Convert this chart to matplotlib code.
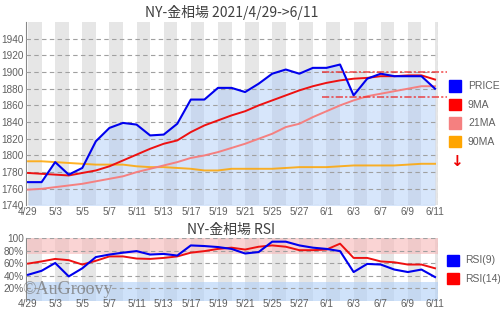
import matplotlib
matplotlib.use('Agg')
import matplotlib.pyplot as plt

dates = ['4/29', '4/30', '5/3', '5/4', '5/5', '5/6', '5/7', '5/10', '5/11', '5/12',
         '5/13', '5/14', '5/17', '5/18', '5/19', '5/20', '5/21', '5/24', '5/25', '5/26',
         '5/27', '5/28', '6/1', '6/2', '6/3', '6/4', '6/7', '6/8', '6/9', '6/10', '6/11']
price = [1768, 1768, 1792, 1777, 1785, 1817, 1833, 1839, 1837, 1824, 1825, 1838, 1867, 1867,
         1881, 1881, 1876, 1886, 1898, 1903, 1898, 1905, 1905, 1909, 1872, 1892, 1898, 1895,
         1895, 1895, 1880]
ma9 = [1779, 1778, 1777, 1776, 1779, 1782, 1787, 1794, 1801, 1808, 1814, 1818, 1828, 1836,
       1842, 1848, 1853, 1860, 1866, 1872, 1878, 1883, 1887, 1890, 1892, 1893, 1895, 1895,
       1896, 1896, 1891]
ma21 = [1759, 1760, 1762, 1764, 1766, 1769, 1772, 1775, 1780, 1784, 1788, 1792, 1797, 1800,
        1804, 1809, 1814, 1820, 1826, 1834, 1838, 1846, 1853, 1860, 1866, 1871, 1874, 1877,
        1880, 1883, 1883]
ma90 = [1793, 1793, 1792, 1791, 1790, 1789, 1789, 1789, 1787, 1786, 1786, 1785, 1784, 1782,
        1782, 1784, 1784, 1784, 1784, 1785, 1786, 1786, 1786, 1787, 1788, 1788, 1788, 1788,
        1789, 1790, 1790]
rsi9 = [41.6, 48, 60.5, 39, 52, 70, 74, 77, 79.5, 74, 75, 72.4, 88.6, 87.6, 86, 83, 75.7, 78,
        94.6, 94.6, 88.6, 85, 83, 79.5, 46, 59, 58, 50, 46, 50, 38]
rsi14 = [59.5, 63, 67, 65, 58, 64, 71, 71, 67.6, 67, 68.6, 71, 77, 79.5, 83, 85, 82, 86.5,
         88.6, 86.5, 81, 81, 82, 91.4, 68.6, 68.6, 63, 61.6, 58, 58, 52]
levels = [1900, 1870]
price_ticks = [1740, 1760, 1780, 1800, 1820, 1840, 1860, 1880, 1900, 1920, 1940]
rsi_ticks = [20, 40, 60, 80, 100]
rsi_tick_labels = ['20%', '40%', '60%', '80%', '100']
legend_main = [('PRICE', '#0000ff'), ('9MA', '#ff0000'), ('21MA', '#f58080'), ('90MA', '#ffa500')]
legend_rsi = [('RSI(9)', '#0000ff'), ('RSI(14)', '#ff0000')]

plt.rcParams['font.family'] = ['Liberation Sans', 'DejaVu Sans']
CJK = ['Noto Sans CJK JP', 'DejaVu Sans']
TXT = '#606060'
x = list(range(len(dates)))
tick_pos = x[::2]
tick_labels = dates[::2]
XL = (-0.15, 30.22)

fig = plt.figure(figsize=(5, 3.1), dpi=100)


def base(ax, ylim, yticks, ylabels, xpad):
    ax.set_xlim(*XL)
    ax.set_ylim(*ylim)
    for k in range(0, len(dates), 2):
        ax.axvspan(k, k + 1, color='#e6e6e6', lw=0, zorder=0)
    for t in yticks:
        ax.axhline(t, color='#a0a0a0', lw=0.8, ls=(0, (4, 3)), zorder=3)
    ax.axvline(XL[1], color='#a0a0a0', lw=0.8, ls=(0, (4, 3)), zorder=3)
    for s in ['top', 'right', 'bottom']:
        ax.spines[s].set_visible(False)
    ax.spines['left'].set_color('#888888')
    ax.set_yticks(yticks)
    ax.set_yticklabels(ylabels)
    ax.set_xticks(tick_pos)
    ax.set_xticklabels(tick_labels)
    ax.tick_params(length=0, labelsize=7.2, colors=TXT, pad=1.5)
    ax.tick_params(axis='x', pad=xpad)


ax = fig.add_axes([0.052, 0.3371, 0.824, 0.592])
base(ax, (1740, 1960), price_ticks, [str(t) for t in price_ticks], 1.0)
ax.fill_between(x, price, 1740, color='#a8c8f8', alpha=0.45, lw=0, zorder=1)
ax.plot(x, ma90, color='#ffa500', lw=1.4, alpha=0.85, zorder=4)
ax.plot(x, ma21, color='#f58080', lw=1.4, zorder=4)
ax.plot(x, ma9, color='#ee1111', lw=1.4, zorder=4)
ax.plot(x, price, color='#0000ee', lw=1.5, zorder=5)
for lv in levels:
    ax.plot([21.65, 30.9], [lv, lv], color='#ee2222', lw=1.3, alpha=0.7,
            ls=(0, (4, 1.2, 1.2, 1.2)), clip_on=False, zorder=6)
fig.text(0.464, 1 - 12 / 310, 'NY-金相場 2021/4/29->6/11', ha='center', va='center',
         fontsize=10, color='#404040', family=CJK)

for i, (lab, col) in enumerate(legend_main):
    yc = 86 + i * 18.5
    fig.patches.append(plt.Rectangle((449 / 500, 1 - (yc + 5.5) / 310), 12 / 500, 11 / 310,
                                     transform=fig.transFigure, color=col, figure=fig))
    fig.text(468 / 500, 1 - yc / 310, lab, ha='left', va='center', fontsize=7.5, color=TXT)
fig.text(456 / 500, 1 - 162 / 310, '↓', ha='center', va='center', fontsize=11,
         color='#ee0000', family='DejaVu Sans', fontweight='bold')

ax2 = fig.add_axes([0.052, 0.0297, 0.824, 0.2016])
base(ax2, (0, 100), rsi_ticks, rsi_tick_labels, -1.0)
ax2.axhspan(75, 100, color='#f8b8b8', alpha=0.6, lw=0, zorder=1)
ax2.axhspan(0, 30, color='#b0d0f8', alpha=0.6, lw=0, zorder=1)
ax2.plot(x, rsi14, color='#ee1111', lw=1.4, zorder=4)
ax2.plot(x, rsi9, color='#0000ee', lw=1.5, zorder=5)
fig.text(0.462, 1 - 230 / 310, 'NY-金相場 RSI', ha='center', va='center',
         fontsize=10, color='#404040', family=CJK)
fig.text(22 / 500, 1 - 290 / 310, '©AuGroovy', ha='left', va='center', fontsize=13,
         color='#777777', alpha=0.75, family='Liberation Serif', zorder=10)
for i, (lab, col) in enumerate(legend_rsi):
    yc = 260 + i * 18.5
    fig.patches.append(plt.Rectangle((447 / 500, 1 - (yc + 5.5) / 310), 12 / 500, 11 / 310,
                                     transform=fig.transFigure, color=col, figure=fig))
    fig.text(465 / 500, 1 - yc / 310, lab, ha='left', va='center', fontsize=7.5, color=TXT)

fig.savefig('out.png', dpi=100, facecolor='white')
